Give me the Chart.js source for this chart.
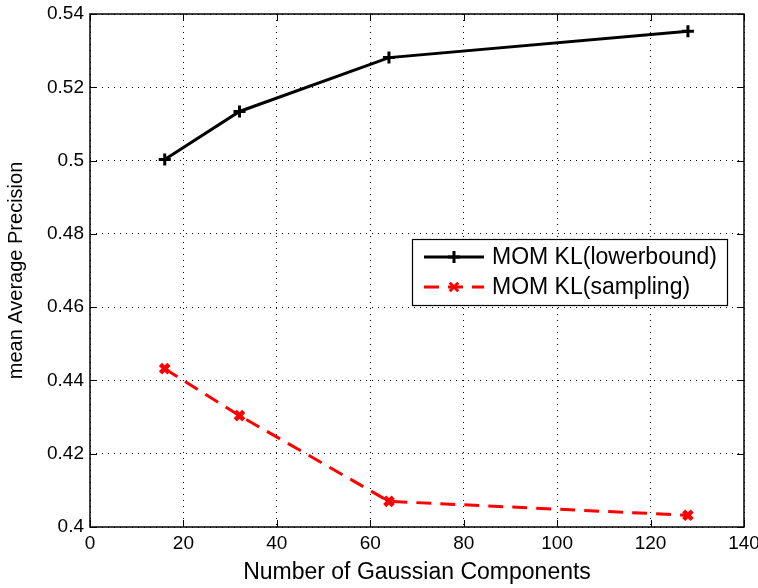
<!DOCTYPE html>
<html>
<head>
<meta charset="utf-8">
<script src="https://cdn.jsdelivr.net/npm/chart.js@4/dist/chart.umd.min.js"></script>
<style>
  html, body { margin: 0; padding: 0; background: #fff; }
</style>
</head>
<body>
<canvas id="chart" width="758" height="588"></canvas>
<script>
// values
var components = [16, 32, 64, 128];
var lowerbound = [0.5003, 0.5134, 0.5281, 0.5353];
var sampling = [0.4432, 0.4304, 0.4070, 0.4032];
var seriesNames = ["MOM KL(lowerbound)", "MOM KL(sampling)"];
var xTicks = [0, 20, 40, 60, 80, 100, 120, 140];
var yTicks = [0.4, 0.42, 0.44, 0.46, 0.48, 0.5, 0.52, 0.54];

var fontName = "'Liberation Sans', Arial, sans-serif";

function toPoints(xs, ys) {
    var pts = [];
    for (var i = 0; i < xs.length; i++) {
        pts.push({ x: xs[i], y: ys[i] });
    }
    return pts;
}

// inward ticks + frame + legend box inside the plot
var framePlugin = {
    id: "frame",
    afterDatasetsDraw: function (chart) {
        var ctx = chart.ctx;
        var a = chart.chartArea;
        var xs = chart.scales.x, ys = chart.scales.y;
        ctx.save();
        ctx.strokeStyle = "#000";
        ctx.lineWidth = 1;
        ctx.beginPath();
        for (var i = 0; i < xTicks.length; i++) {
            var px = Math.round(xs.getPixelForValue(xTicks[i])) + 0.5;
            ctx.moveTo(px, a.bottom); ctx.lineTo(px, a.bottom - 7);
            ctx.moveTo(px, a.top); ctx.lineTo(px, a.top + 7);
        }
        for (var j = 0; j < yTicks.length; j++) {
            var py = Math.round(ys.getPixelForValue(yTicks[j])) + 0.5;
            ctx.moveTo(a.left, py); ctx.lineTo(a.left + 7, py);
            ctx.moveTo(a.right, py); ctx.lineTo(a.right - 7, py);
        }
        ctx.stroke();
        ctx.lineWidth = 1.5;
        ctx.strokeRect(a.left, a.top, a.right - a.left, a.bottom - a.top);

        // legend
        var lx = 412, ly = 239, lw = 315, lh = 66;
        ctx.fillStyle = "#fff";
        ctx.fillRect(lx, ly, lw, lh);
        ctx.lineWidth = 1.2;
        ctx.strokeRect(lx + 0.5, ly + 0.5, lw, lh);
        ctx.font = "23px " + fontName;
        ctx.textBaseline = "middle";
        var ds = chart.data.datasets;
        for (var k = 0; k < ds.length; k++) {
            var cy = ly + 18 + k * 30;
            ctx.strokeStyle = ds[k].borderColor;
            ctx.lineWidth = ds[k].borderWidth;
            ctx.setLineDash(ds[k].borderDash || []);
            ctx.beginPath();
            ctx.moveTo(lx + 12, cy); ctx.lineTo(lx + 72, cy);
            ctx.stroke();
            ctx.setLineDash([]);
            Chart.helpers.drawPoint(ctx, {
                pointStyle: ds[k].pointStyle,
                radius: ds[k].pointRadius,
                borderWidth: ds[k].pointBorderWidth
            }, lx + 42, cy);
            ctx.fillStyle = "#000";
            ctx.fillText(seriesNames[k], lx + 80, cy + 1);
        }
        ctx.restore();
    }
};

var ctx = document.getElementById("chart");
var chart = new Chart(ctx, {
    type: "line",
    data: {
        datasets: [
            {
                label: seriesNames[0],
                data: toPoints(components, lowerbound),
                borderColor: "#000",
                backgroundColor: "#000",
                borderWidth: 3,
                pointStyle: "cross",
                pointRadius: 6,
                pointBorderWidth: 3,
                pointBorderColor: "#000",
                tension: 0
            },
            {
                label: seriesNames[1],
                data: toPoints(components, sampling),
                borderColor: "#ff0000",
                backgroundColor: "#ff0000",
                borderWidth: 3,
                borderDash: [15, 9],
                pointStyle: "crossRot",
                pointRadius: 6,
                pointBorderWidth: 4.5,
                pointBorderColor: "#ff0000",
                tension: 0
            }
        ]
    },
    options: {
        responsive: false,
        animation: false,
        devicePixelRatio: 1,
        layout: { padding: { left: 4, right: 14, top: 14, bottom: 0 } },
        plugins: {
            legend: { display: false },
            tooltip: { enabled: false }
        },
        scales: {
            x: {
                type: "linear",
                min: 0,
                max: 140,
                afterBuildTicks: function (axis) {
                    axis.ticks = xTicks.map(function (v) { return { value: v }; });
                },
                afterFit: function (axis) {
                    axis.height = 61;
                    axis.paddingRight = 0;
                    axis.paddingLeft = 0;
                },
                grid: {
                    color: "#000",
                    lineWidth: 1,
                    drawTicks: false
                },
                border: { display: false, dash: [1, 5] },
                ticks: {
                    color: "#000",
                    padding: 5,
                    maxRotation: 0,
                    font: { family: fontName, size: 19 }
                },
                title: {
                    display: true,
                    text: "Number of Gaussian Components",
                    color: "#000",
                    padding: { top: 0, bottom: 2 },
                    font: { family: fontName, size: 23 }
                }
            },
            y: {
                type: "linear",
                min: 0.4,
                max: 0.54,
                afterBuildTicks: function (axis) {
                    axis.ticks = yTicks.map(function (v) { return { value: v }; });
                },
                afterFit: function (axis) {
                    axis.width = 86;
                    axis.paddingTop = 0;
                    axis.paddingBottom = 0;
                },
                grid: {
                    color: "#000",
                    lineWidth: 1,
                    drawTicks: false
                },
                border: { display: false, dash: [1, 5] },
                ticks: {
                    color: "#000",
                    padding: 6,
                    font: { family: fontName, size: 19 },
                    callback: function (v) { return parseFloat(v.toFixed(2)).toString(); }
                },
                title: {
                    display: true,
                    text: "mean Average Precision",
                    color: "#000",
                    padding: { top: 0, bottom: 4 },
                    font: { family: fontName, size: 20 }
                }
            }
        }
    },
    plugins: [framePlugin]
});
</script>
</body>
</html>
